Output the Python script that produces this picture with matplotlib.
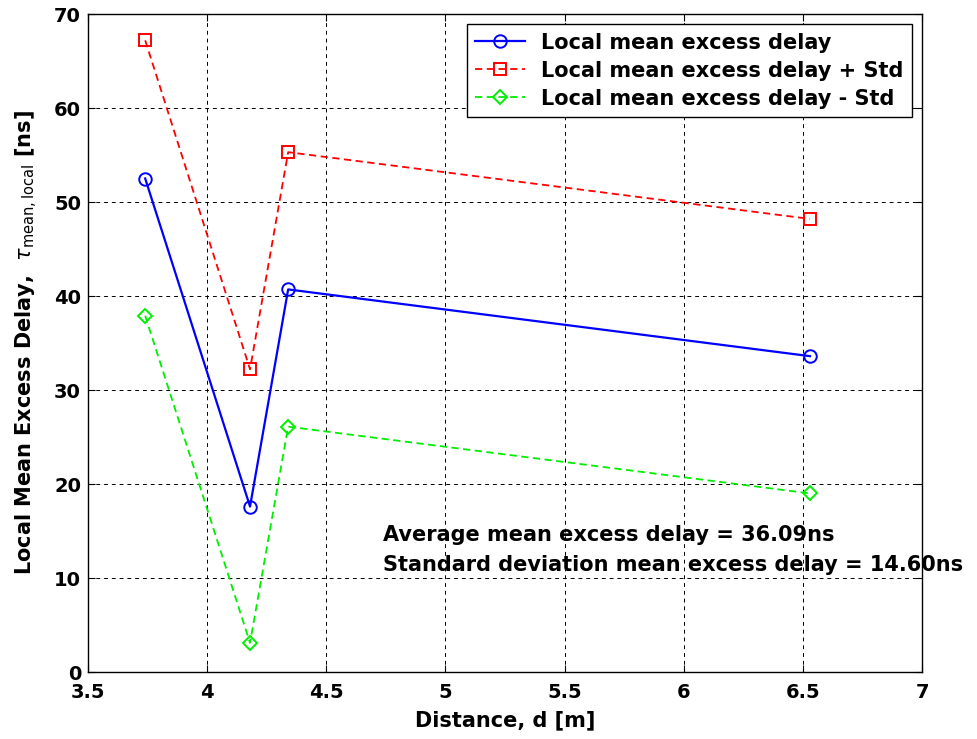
import numpy as np
import matplotlib.pyplot as plt

plt.rcParams['font.family'] = ['DejaVu Sans']

# measured points
distance = [3.74, 4.18, 4.34, 6.53]
mean_delay = [52.5, 17.6, 40.7, 33.6]
mean_plus_std = [67.2, 32.2, 55.3, 48.2]
mean_minus_std = [37.9, 3.1, 26.1, 19.0]

avg_text = 'Average mean excess delay = 36.09ns'
std_text = 'Standard deviation mean excess delay = 14.60ns'

fig = plt.figure(figsize=(9.77, 7.39), dpi=100)
ax = fig.add_axes([88/977, 1 - 672/739, (922-88)/977, (672-14)/739])

ax.plot(distance, mean_delay, '-o', color='#0000ff', lw=1.6, ms=9, mfc='none', mew=1.4,
        label='Local mean excess delay')
ax.plot(distance, mean_plus_std, '--s', color='#ff0000', lw=1.3, ms=9, mfc='none', mew=1.4,
        label='Local mean excess delay + Std', dashes=(4, 2.5))
ax.plot(distance, mean_minus_std, '--D', color='#00ee00', lw=1.3, ms=7.5, mfc='none', mew=1.4,
        label='Local mean excess delay - Std', dashes=(4, 2.5))

ax.set_xlim(3.5, 7)
ax.set_ylim(0, 70)
ax.set_xticks(np.arange(3.5, 7.01, 0.5))
ax.set_xticklabels(['3.5', '4', '4.5', '5', '5.5', '6', '6.5', '7'])
ax.set_yticks(np.arange(0, 71, 10))
ax.grid(True, color='black', linestyle=(0, (4, 4)), lw=0.7)
ax.tick_params(direction='in', length=5, labelsize=14, top=True, right=True)
ax.tick_params(axis='x', pad=8)
ax.tick_params(axis='y', pad=5)
for lab in ax.get_xticklabels() + ax.get_yticklabels():
    lab.set_fontweight('bold')
for sp in ax.spines.values():
    sp.set_linewidth(1.0)

ax.set_xlabel('Distance, d [m]', fontsize=15, fontweight='bold', labelpad=6)
ax.set_ylabel(r'Local Mean Excess Delay,  $\tau_{\mathrm{mean,local}}$ [ns]', fontsize=15,
              fontweight='bold', labelpad=10)

ax.text(4.738, 14.6, avg_text, fontsize=15, fontweight='bold', va='center', clip_on=False)
ax.text(4.738, 11.4, std_text, fontsize=15, fontweight='bold', va='center', clip_on=False)

leg = ax.legend(loc='upper right', prop={'weight': 'bold', 'size': 15},
                fancybox=False, edgecolor='black', framealpha=1, borderaxespad=0.5,
                handlelength=2.4, handletextpad=0.75, labelspacing=0.38, borderpad=0.4)
leg.get_frame().set_linewidth(1.0)

fig.savefig('out.png', dpi=100)
